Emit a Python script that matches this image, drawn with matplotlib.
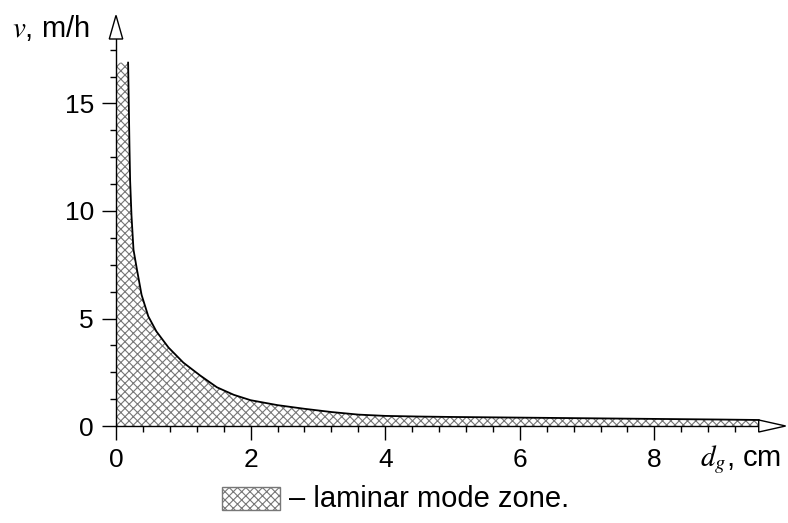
import numpy as np
import matplotlib.pyplot as plt
from matplotlib.patches import Polygon, Rectangle

plt.rcParams['font.family'] = ['Liberation Sans', 'DejaVu Sans']
plt.rcParams['mathtext.fontset'] = 'stix'
plt.rcParams['hatch.color'] = '#777777'
plt.rcParams['hatch.linewidth'] = 0.8

# -----------------------------
# Data
# -----------------------------
d_g = [0.18, 0.19, 0.20, 0.21, 0.23, 0.26, 0.31, 0.38, 0.48, 0.60, 0.78,
       1.0, 1.25, 1.5, 1.75, 2.0, 2.4, 2.8, 3.2, 3.6, 4.0, 4.5, 5.0,
       6.0, 7.0, 8.0, 9.0, 9.55]
v = [16.9, 15.0, 13.0, 11.4, 9.8, 8.2, 7.3, 6.1, 5.1, 4.4, 3.65,
     2.95, 2.35, 1.8, 1.45, 1.2, 0.97, 0.8, 0.65, 0.53, 0.47, 0.44, 0.42,
     0.39, 0.36, 0.33, 0.30, 0.28]

x_major = [0, 2, 4, 6, 8]
y_major = [0, 5, 10, 15]

# -----------------------------
# Figure / axes placement (pixels)
# -----------------------------
W, H = 788, 523
fig = plt.figure(figsize=(W / 100, H / 100), dpi=100)
px_per_x = 67.3
px_per_y = 21.5
x0_px, y0_px = 116, 426
xmax, ymax = 9.95, 19.2
ax = fig.add_axes([x0_px / W, (H - y0_px) / H,
                   xmax * px_per_x / W, ymax * px_per_y / H])
ax.set_xlim(0, xmax)
ax.set_ylim(0, ymax)

# hatched zone
poly_x = np.r_[0, 0, d_g, d_g[-1]]
poly_y = np.r_[0, v[0], v, 0]
ax.add_patch(Polygon(np.c_[poly_x, poly_y], closed=True, facecolor='white',
                     edgecolor='#777777', hatch='xxxx', linewidth=0, zorder=1))
ax.plot(d_g, v, color='black', lw=1.3, zorder=3, solid_joinstyle='round')

# axes lines
for s in ['top', 'right']:
    ax.spines[s].set_visible(False)
ax.spines['left'].set_bounds(0, 18.0)
ax.spines['bottom'].set_bounds(0, 9.55)
for s in ['left', 'bottom']:
    ax.spines[s].set_linewidth(1.0)
    ax.spines[s].set_zorder(4)

# hollow arrow heads
ya = Polygon([[-0.1, 18.0], [0.1, 18.0], [0, 19.1]], closed=True,
             facecolor='white', edgecolor='black', lw=1.0, clip_on=False, zorder=5)
xa = Polygon([[9.55, -0.28], [9.55, 0.28], [9.95, 0]], closed=True,
             facecolor='white', edgecolor='black', lw=1.0, clip_on=False, zorder=5)
ax.add_patch(ya)
ax.add_patch(xa)

ax.set_xticks(x_major)
ax.set_yticks(y_major)
ax.set_xticks(np.arange(0, 9.3, 0.4), minor=True)
ax.set_yticks(np.arange(0, 18.0, 1.25), minor=True)
ax.tick_params(which='major', direction='out', length=10, width=1.0,
               labelsize=19, pad=6)
ax.tick_params(which='minor', direction='out', length=4, width=1.0)

# axis labels
fig.text(12 / W, 1 - 28 / H, r'$v$, m/h', fontsize=21, ha='left', va='center')
fig.text(700 / W, 1 - 460 / H, r'$d_g$, cm', fontsize=21, ha='left', va='center')

# legend
lx0, ly0 = 222 / W, 1 - 510 / H
leg = Rectangle((lx0, ly0), 58 / W, 23 / H, transform=fig.transFigure,
                facecolor='white', edgecolor='#777777', hatch='xxxx', lw=1.0)
fig.patches.append(leg)
fig.text(289 / W, 1 - 499 / H, '– laminar mode zone.', fontsize=21,
         ha='left', va='center')

fig.savefig('out.png', dpi=100)
